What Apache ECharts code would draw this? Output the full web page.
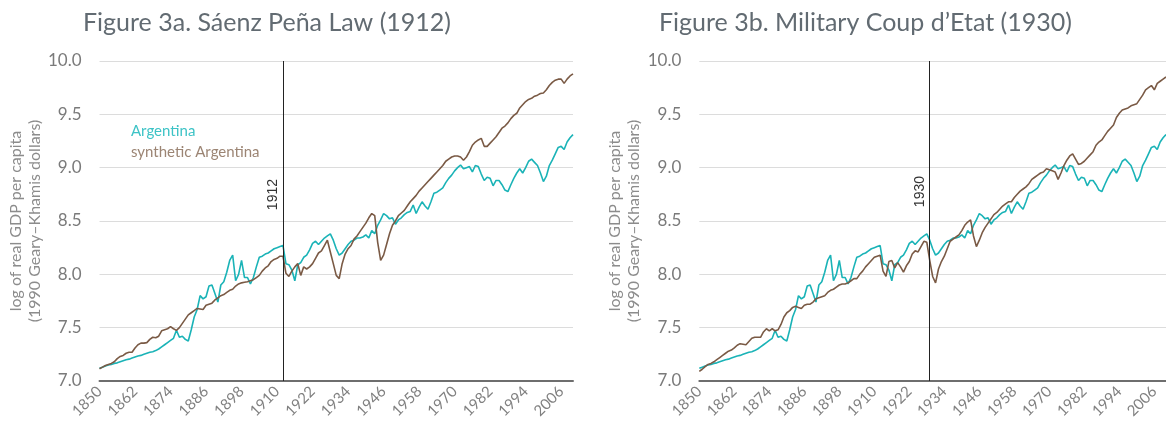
<!DOCTYPE html>
<html>
<head>
<meta charset="utf-8">
<script src="https://cdn.jsdelivr.net/npm/echarts@6/dist/echarts.min.js"></script>
</head>
<body style="margin:0">
<div id="container" style="width:1166px;height:430px"></div>
<script>
// years 1850..2010
var years = [];
for (var y = 1850; y <= 2010; y++) years.push(String(y));

var yTicks = [7.0, 7.5, 8.0, 8.5, 9.0, 9.5, 10.0];

// log real GDP per capita, Argentina (same in both panels)
var argentina = [
  7.12, 7.13, 7.14, 7.15, 7.155, 7.165, 7.17, 7.18, 7.19, 7.20,
  7.205, 7.215, 7.225, 7.235, 7.24, 7.25, 7.26, 7.27, 7.275, 7.285,
  7.30, 7.32, 7.34, 7.36, 7.38, 7.40, 7.475, 7.41, 7.42, 7.39,
  7.375, 7.48, 7.60, 7.67, 7.80, 7.77, 7.79, 7.89, 7.90, 7.82,
  7.74, 7.90, 7.93, 8.02, 8.13, 8.18, 7.94, 8.00, 8.13, 7.97,
  7.97, 7.91, 7.97, 8.07, 8.16, 8.17, 8.19, 8.20, 8.22, 8.24,
  8.25, 8.26, 8.27, 8.10, 8.09, 8.04, 7.94, 8.09, 8.11, 8.16,
  8.18, 8.23, 8.29, 8.31, 8.28, 8.31, 8.34, 8.36, 8.38, 8.32,
  8.24, 8.18, 8.20, 8.24, 8.28, 8.31, 8.32, 8.34, 8.34, 8.35,
  8.37, 8.34, 8.41, 8.38, 8.46, 8.51, 8.57, 8.55, 8.52, 8.53,
  8.47, 8.51, 8.53, 8.56, 8.58, 8.59, 8.65, 8.57, 8.63, 8.68,
  8.64, 8.61, 8.68, 8.76, 8.77, 8.79, 8.81, 8.86, 8.90, 8.93,
  8.97, 9.00, 9.025, 8.99, 9.00, 9.01, 8.96, 9.02, 9.01, 8.94,
  8.88, 8.91, 8.90, 8.83, 8.88, 8.88, 8.84, 8.79, 8.775, 8.84,
  8.90, 8.95, 8.99, 8.95, 9.00, 9.06, 9.08, 9.05, 9.02, 8.95,
  8.87, 8.92, 9.02, 9.07, 9.13, 9.19, 9.20, 9.17, 9.24, 9.28, 9.31
];

// synthetic Argentina, treatment 1912
var synth1912 = [
  7.115, 7.13, 7.145, 7.155, 7.165, 7.18, 7.21, 7.23, 7.24, 7.26,
  7.27, 7.27, 7.31, 7.34, 7.355, 7.355, 7.36, 7.39, 7.41, 7.405,
  7.42, 7.47, 7.48, 7.49, 7.51, 7.49, 7.475, 7.50, 7.54, 7.58,
  7.62, 7.64, 7.66, 7.68, 7.675, 7.67, 7.71, 7.72, 7.73, 7.76,
  7.78, 7.80, 7.81, 7.83, 7.85, 7.86, 7.89, 7.91, 7.92, 7.925,
  7.93, 7.94, 7.95, 7.97, 7.99, 8.03, 8.06, 8.08, 8.12, 8.14,
  8.15, 8.17, 8.17, 8.01, 7.98, 8.03, 8.07, 8.10, 7.99, 8.07,
  8.05, 8.07, 8.10, 8.15, 8.20, 8.22, 8.27, 8.32, 8.21, 8.10,
  7.99, 7.96, 8.10, 8.19, 8.24, 8.27, 8.33, 8.36, 8.40, 8.44,
  8.48, 8.53, 8.57, 8.55, 8.30, 8.13, 8.18, 8.28, 8.38, 8.46,
  8.50, 8.55, 8.575, 8.60, 8.64, 8.68, 8.71, 8.74, 8.78, 8.81,
  8.84, 8.87, 8.90, 8.93, 8.96, 8.99, 9.02, 9.06, 9.08, 9.10,
  9.11, 9.11, 9.10, 9.07, 9.10, 9.15, 9.21, 9.24, 9.26, 9.275,
  9.20, 9.20, 9.23, 9.26, 9.29, 9.33, 9.37, 9.39, 9.42, 9.46,
  9.49, 9.51, 9.56, 9.59, 9.62, 9.64, 9.65, 9.67, 9.68, 9.695,
  9.70, 9.73, 9.77, 9.80, 9.82, 9.83, 9.83, 9.79, 9.83, 9.86, 9.88
];

// synthetic Argentina, treatment 1930
var synth1930 = [
  7.09, 7.11, 7.135, 7.155, 7.165, 7.18, 7.20, 7.22, 7.24, 7.26,
  7.28, 7.29, 7.31, 7.335, 7.35, 7.345, 7.34, 7.37, 7.40, 7.41,
  7.41, 7.41, 7.46, 7.49, 7.47, 7.49, 7.47, 7.48, 7.53, 7.60,
  7.64, 7.66, 7.69, 7.70, 7.69, 7.68, 7.71, 7.72, 7.72, 7.74,
  7.77, 7.78, 7.79, 7.80, 7.83, 7.85, 7.86, 7.88, 7.90, 7.91,
  7.91, 7.92, 7.94, 7.96, 7.96, 8.00, 8.03, 8.07, 8.10, 8.13,
  8.16, 8.17, 8.18, 8.03, 7.98, 8.12, 8.13, 8.06, 8.11, 8.07,
  8.02, 8.08, 8.12, 8.19, 8.22, 8.21, 8.26, 8.31, 8.30, 8.13,
  7.98, 7.92, 8.05, 8.12, 8.17, 8.24, 8.31, 8.33, 8.35, 8.37,
  8.41, 8.46, 8.49, 8.51, 8.36, 8.26, 8.32, 8.39, 8.44, 8.48,
  8.52, 8.56, 8.58, 8.61, 8.64, 8.66, 8.68, 8.68, 8.72, 8.75,
  8.78, 8.80, 8.82, 8.85, 8.89, 8.91, 8.93, 8.95, 8.96, 8.99,
  8.98, 8.97, 8.96, 8.89, 8.95, 9.02, 9.07, 9.11, 9.13, 9.08,
  9.03, 9.04, 9.06, 9.09, 9.12, 9.15, 9.21, 9.24, 9.26, 9.30,
  9.34, 9.37, 9.40, 9.47, 9.51, 9.54, 9.55, 9.56, 9.58, 9.59,
  9.60, 9.64, 9.68, 9.73, 9.75, 9.77, 9.73, 9.79, 9.81, 9.83, 9.85
];

var FONT = 'Lato, "Open Sans", sans-serif';
var teal = '#1ab3b7';
var brown = '#7a5a45';

function xAxisFor(i) {
  return {
    gridIndex: i, type: 'category', data: years, boundaryGap: false,
    axisLine: { lineStyle: { color: '#6e6e6e', width: 2 } },
    axisTick: { show: false },
    axisLabel: { interval: 11, rotate: 45, color: '#808080', fontFamily: FONT, fontSize: 15, margin: 8 },
    splitLine: { show: false }
  };
}
function yAxisFor(i) {
  return {
    gridIndex: i, type: 'value',
    min: yTicks[0], max: yTicks[yTicks.length - 1], interval: 0.5,
    name: 'log of real GDP per capita\n(1990 Geary\u2013Khamis dollars)',
    nameLocation: 'middle', nameGap: 55,
    nameTextStyle: { color: '#8c8c8c', fontFamily: FONT, fontSize: 16, lineHeight: 19 },
    axisLine: { show: false }, axisTick: { show: false },
    axisLabel: { formatter: function (v) { return v.toFixed(1); }, color: '#7a7a7a', fontFamily: FONT, fontSize: 17, margin: 18 },
    splitLine: { lineStyle: { color: '#dcdcdc', width: 1 } }
  };
}
function vline(year, text, along) {
  return {
    symbol: 'none', silent: true,
    lineStyle: { color: '#222', width: 1, type: 'solid' },
    label: {
      show: true, formatter: text, position: 'insideEndTop', distance: [along, 3],
      color: '#333', fontFamily: '"Liberation Sans Narrow", "Liberation Sans", sans-serif', fontSize: 14
    },
    data: [{ xAxis: year }]
  };
}
function lineSeries(name, data, color, axis, mark) {
  var s = {
    name: name, type: 'line', xAxisIndex: axis, yAxisIndex: axis, data: data,
    symbol: 'none', lineStyle: { color: color, width: 1.6 }, itemStyle: { color: color }
  };
  if (mark) s.markLine = mark;
  return s;
}

var chart = echarts.init(document.getElementById('container'));
chart.setOption({
  animation: false,
  title: [
    { text: 'Figure 3a. S\u00e1enz Pe\u00f1a Law (1912)', left: 78, top: 5,
      textStyle: { fontFamily: FONT, fontSize: 25, fontWeight: 'normal', color: '#626b72' } },
    { text: 'Figure 3b. Military Coup d\u2019Etat (1930)', left: 654, top: 5,
      textStyle: { fontFamily: FONT, fontSize: 25, fontWeight: 'normal', color: '#626b72' } }
  ],
  legend: {
    left: 121, top: 119, orient: 'vertical', icon: 'none', itemWidth: 0, itemHeight: 14, itemGap: 6,
    selectedMode: false,
    textStyle: { fontFamily: FONT, fontSize: 15 },
    data: [
      { name: 'Argentina', textStyle: { color: '#3dc3c6' } },
      { name: 'synthetic Argentina', textStyle: { color: '#9c8574' } }
    ]
  },
  grid: [
    { left: 99.5, top: 61, width: 473.5, height: 320 },
    { left: 699.3, top: 61, width: 474.4, height: 320 }
  ],
  xAxis: [xAxisFor(0), xAxisFor(1)],
  yAxis: [yAxisFor(0), yAxisFor(1)],
  series: [
    lineSeries('Argentina', argentina, teal, 0, vline('1912', '1912', 118)),
    lineSeries('synthetic Argentina', synth1912, brown, 0),
    lineSeries('Argentina', argentina, teal, 1, vline('1929', '1930', 115)),
    lineSeries('synthetic Argentina', synth1930, brown, 1)
  ]
});
</script>
</body>
</html>
